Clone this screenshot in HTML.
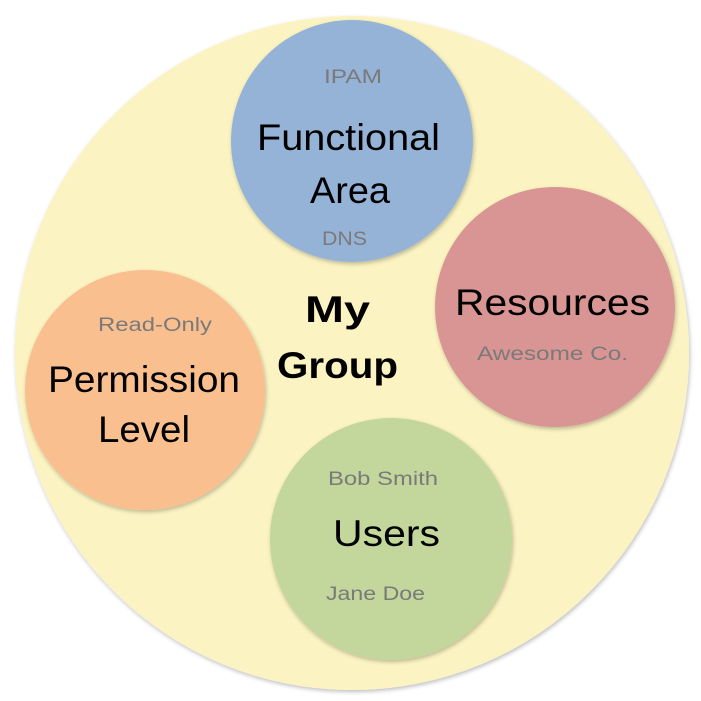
<!DOCTYPE html>
<html><head><meta charset="utf-8"><style>html,body{margin:0;padding:0;background:#fff}svg{display:block}</style></head>
<body>
<svg width="701" height="701" viewBox="0 0 701 701" xmlns="http://www.w3.org/2000/svg" font-family="Liberation Sans, sans-serif">
<defs><filter id="s" x="-10%" y="-10%" width="120%" height="120%"><feGaussianBlur in="SourceAlpha" stdDeviation="2"/><feOffset dx="1" dy="2"/><feComponentTransfer><feFuncA type="linear" slope="0.25"/></feComponentTransfer><feMerge><feMergeNode/><feMergeNode in="SourceGraphic"/></feMerge></filter></defs>
<circle cx="352" cy="353" r="337" fill="#fbf3c1" filter="url(#s)"/>
<circle cx="352" cy="141" r="121" fill="#95b3d7" filter="url(#s)"/>
<circle cx="555" cy="307" r="120" fill="#d99594" filter="url(#s)"/>
<circle cx="145" cy="390" r="120" fill="#fabf8f" filter="url(#s)"/>
<circle cx="391" cy="539" r="121" fill="#c3d69b" filter="url(#s)"/>
<g fill="#7a7a7a" font-size="19">
<text x="324" y="83" textLength="58" lengthAdjust="spacingAndGlyphs">IPAM</text>
<text x="322" y="245" textLength="45" lengthAdjust="spacingAndGlyphs">DNS</text>
<text x="477" y="360" textLength="151" lengthAdjust="spacingAndGlyphs">Awesome Co.</text>
<text x="98" y="331" textLength="114" lengthAdjust="spacingAndGlyphs">Read-Only</text>
<text x="328" y="485" textLength="110" lengthAdjust="spacingAndGlyphs">Bob Smith</text>
<text x="326" y="600" textLength="99" lengthAdjust="spacingAndGlyphs">Jane Doe</text>
</g>
<g fill="#000" font-size="37">
<text x="257" y="150" textLength="183" lengthAdjust="spacingAndGlyphs">Functional</text>
<text x="310" y="203" textLength="80" lengthAdjust="spacingAndGlyphs">Area</text>
<text x="455" y="315" textLength="195" lengthAdjust="spacingAndGlyphs">Resources</text>
<text x="48" y="392" textLength="192" lengthAdjust="spacingAndGlyphs">Permission</text>
<text x="98" y="442" textLength="92" lengthAdjust="spacingAndGlyphs">Level</text>
<text x="333" y="546" textLength="107" lengthAdjust="spacingAndGlyphs">Users</text>
</g>
<g fill="#000" font-size="37" font-weight="bold">
<text x="305" y="322" textLength="65" lengthAdjust="spacingAndGlyphs">My</text>
<text x="277" y="378" textLength="121" lengthAdjust="spacingAndGlyphs">Group</text>
</g>
</svg>
</body></html>
